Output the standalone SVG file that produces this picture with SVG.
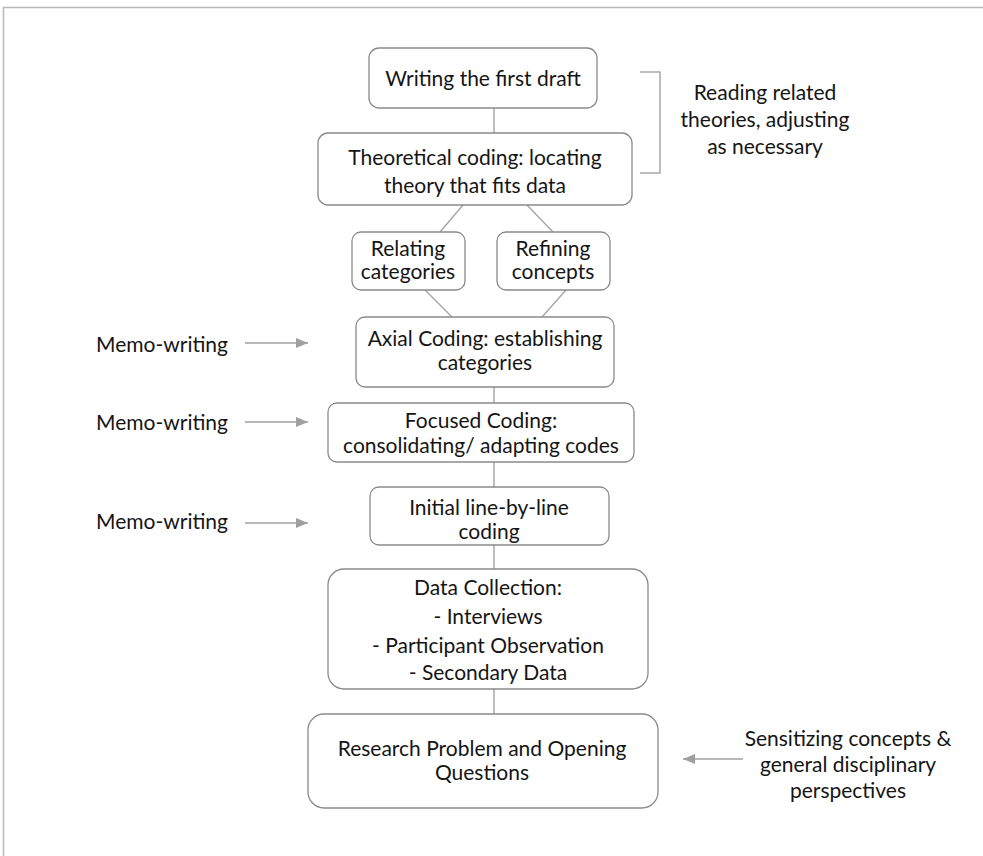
<svg xmlns="http://www.w3.org/2000/svg" width="983" height="856" viewBox="0 0 983 856">
<style>
.box{fill:#fff;stroke:#8a8a8a;stroke-width:1.3}
.t{font-family:Lato,"Open Sans","Liberation Sans",sans-serif;font-size:21px;fill:#151515;text-anchor:middle}
.l{font-family:Lato,"Open Sans","Liberation Sans",sans-serif;font-size:21px;fill:#151515}
.c{stroke:#a8a8a8;stroke-width:1.5;fill:none}
.a{stroke:#a0a0a0;stroke-width:1.5;fill:none}
</style>
<defs>
<marker id="ah" viewBox="0 0 12 10" refX="12" refY="5" markerWidth="12" markerHeight="10" markerUnits="userSpaceOnUse" orient="auto">
<path d="M0,0 L12,5 L0,10 z" fill="#a0a0a0"/>
</marker>
</defs>
<rect width="983" height="856" fill="#fff"/>
<path d="M3.5,856 V7.5 H983" fill="none" stroke="#b8b8b8" stroke-width="1.5"/>
<g id="connectors">
<line class="c" x1="494" y1="108" x2="494" y2="133"/>
<line class="c" x1="463" y1="205" x2="440" y2="232"/>
<line class="c" x1="527" y1="205" x2="553" y2="232"/>
<line class="c" x1="425" y1="290" x2="452" y2="317"/>
<line class="c" x1="566" y1="290" x2="542" y2="317"/>
<line class="c" x1="494" y1="387" x2="494" y2="403"/>
<line class="c" x1="494" y1="462" x2="494" y2="487"/>
<line class="c" x1="494" y1="545" x2="494" y2="569"/>
<line class="c" x1="494" y1="689" x2="494" y2="714"/>
<line class="a" x1="245" y1="343" x2="308" y2="343" marker-end="url(#ah)"/>
<line class="a" x1="245" y1="422" x2="308" y2="422" marker-end="url(#ah)"/>
<line class="a" x1="245" y1="523" x2="308" y2="523" marker-end="url(#ah)"/>
<line class="a" x1="743" y1="759" x2="683" y2="759" marker-end="url(#ah)"/>
<path class="c" d="M640,72 H660 V173 H640"/>
</g>
<g id="n1"><rect class="box" x="369" y="48" width="228" height="60" rx="10"/><text class="t" x="483" y="86">Writing the first draft</text></g>
<g id="n2"><rect class="box" x="318" y="133" width="314" height="72" rx="10"/><text class="t" x="475" y="165">Theoretical coding: locating</text><text class="t" x="475" y="193">theory that fits data</text></g>
<g id="n3"><rect class="box" x="352" y="232" width="113" height="58" rx="9"/><text class="t" x="408" y="256">Relating</text><text class="t" x="408" y="279">categories</text></g>
<g id="n4"><rect class="box" x="497" y="232" width="113" height="58" rx="9"/><text class="t" x="553" y="256">Refining</text><text class="t" x="553" y="279">concepts</text></g>
<g id="n5"><rect class="box" x="356" y="317" width="258" height="70" rx="9"/><text class="t" x="485" y="346">Axial Coding: establishing</text><text class="t" x="485" y="370">categories</text></g>
<g id="n6"><rect class="box" x="328" y="403" width="306" height="59" rx="9"/><text class="t" x="481" y="428">Focused Coding:</text><text class="t" x="481" y="453">consolidating/  adapting codes</text></g>
<g id="n7"><rect class="box" x="370" y="487" width="239" height="58" rx="9"/><text class="t" x="489" y="515">Initial line-by-line</text><text class="t" x="489" y="539">coding</text></g>
<g id="n8"><rect class="box" x="328" y="569" width="320" height="120" rx="16"/><text class="t" x="488" y="595">Data Collection:</text><text class="t" x="488" y="624">- Interviews</text><text class="t" x="488" y="653">- Participant Observation</text><text class="t" x="488" y="680">- Secondary Data</text></g>
<g id="n9"><rect class="box" x="308" y="714" width="350" height="94" rx="16"/><text class="t" x="482" y="756">Research Problem  and Opening</text><text class="t" x="482" y="780">Questions</text></g>
<g id="m1"><text class="l" x="96" y="352">Memo-writing</text></g>
<g id="m2"><text class="l" x="96" y="430">Memo-writing</text></g>
<g id="m3"><text class="l" x="96" y="529">Memo-writing</text></g>
<g id="r1"><text class="t" x="765" y="100">Reading related</text><text class="t" x="765" y="127">theories, adjusting</text><text class="t" x="765" y="154">as necessary</text></g>
<g id="s1"><text class="t" x="848" y="746">Sensitizing concepts &amp;</text><text class="t" x="848" y="772">general disciplinary</text><text class="t" x="848" y="798">perspectives</text></g>
</svg>
